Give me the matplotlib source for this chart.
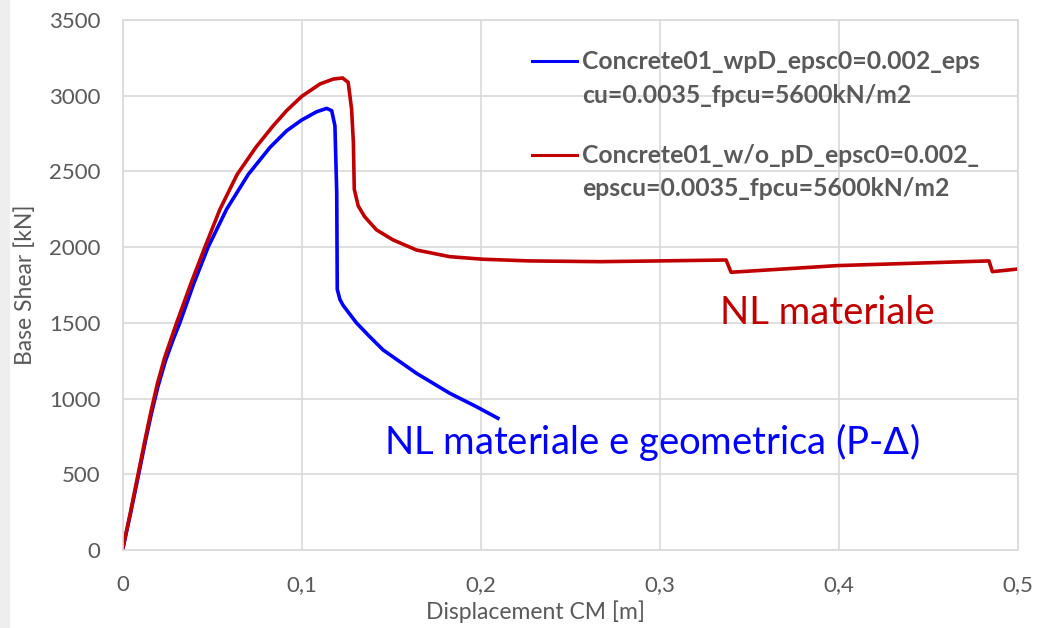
import matplotlib.pyplot as plt
from matplotlib.ticker import FuncFormatter, MultipleLocator
from matplotlib.patches import Rectangle

plt.rcParams['font.family'] = ['Lato', 'DejaVu Sans']

# Pushover curves
disp_wpd = [0.0, 0.0045, 0.009, 0.0128, 0.016, 0.0198, 0.024, 0.0283, 0.032,
            0.0398, 0.0478, 0.0581, 0.0702, 0.0823, 0.0916, 0.1, 0.1084,
            0.114, 0.1168, 0.1186, 0.1196, 0.1199, 0.1214, 0.1232, 0.1306,
            0.138, 0.1455, 0.1548, 0.1641, 0.1734, 0.1827, 0.1975, 0.2096]
shear_wpd = [0, 243, 500, 720, 895, 1080, 1250, 1390, 1500,
             1760, 2000, 2250, 2480, 2658, 2768, 2839, 2894,
             2916, 2901, 2801, 2360, 1721, 1654, 1615, 1500,
             1409, 1321, 1244, 1167, 1101, 1035, 947, 870]

disp_wo = [0.0, 0.0043, 0.0088, 0.0126, 0.0158, 0.0195, 0.0235, 0.0264, 0.0302,
           0.0385, 0.046, 0.0544, 0.064, 0.0745, 0.0841, 0.0916, 0.1,
           0.1102, 0.1177, 0.1229, 0.126, 0.1279, 0.1289, 0.1294, 0.1316,
           0.1352, 0.1418, 0.151, 0.1641, 0.1827, 0.2012, 0.2273, 0.2663,
           0.30, 0.337, 0.3398, 0.3992, 0.4838, 0.4857, 0.4987]
shear_wo = [0, 243, 507, 730, 910, 1100, 1270, 1370, 1500,
            1770, 2000, 2250, 2480, 2660, 2801, 2901, 2995,
            3077, 3110, 3117, 3088, 2912, 2691, 2382, 2272,
            2201, 2114, 2048, 1981, 1937, 1920, 1909, 1904,
            1909, 1915, 1834, 1878, 1909, 1838, 1854]

label_wpd = "Concrete01_wpD_epsc0=0.002_eps\ncu=0.0035_fpcu=5600kN/m2"
label_wo = "Concrete01_w/o_pD_epsc0=0.002_\nepscu=0.0035_fpcu=5600kN/m2"

blue = "#0000FF"
red = "#C00000"
grey = "#595959"
grid = "#D9D9D9"

fig = plt.figure(figsize=(10.41, 6.28), dpi=100)
ax = fig.add_axes([0.1177, 0.1242, 0.8602, 0.844])

ax.plot(disp_wpd, shear_wpd, color=blue, lw=2.6, solid_joinstyle='round')
ax.plot(disp_wo, shear_wo, color=red, lw=2.6, solid_joinstyle='round')

ax.set_xlim(0, 0.5)
ax.set_ylim(0, 3500)
ax.xaxis.set_major_locator(MultipleLocator(0.1))
ax.yaxis.set_major_locator(MultipleLocator(500))
ax.xaxis.set_major_formatter(FuncFormatter(lambda v, p: ("%g" % round(v, 2)).replace(".", ",")))
ax.grid(True, color=grid, lw=1.2)
ax.set_axisbelow(True)
for s in ax.spines.values():
    s.set_color(grid)
    s.set_linewidth(1.2)
ax.tick_params(length=0, labelsize=16, colors=grey)
ax.tick_params(axis='y', pad=16)
ax.tick_params(axis='x', pad=18)

fig.text(25 / 1041, 1 - 285 / 628, "Base Shear [kN]", rotation=90, ha='center', va='center',
         fontsize=16.5, color=grey)
fig.text(536 / 1041, 1 - 612 / 628, "Displacement CM [m]", ha='center', va='center',
         fontsize=16.5, color=grey)

# annotations
ax.text(0.3935, 1565, "NL materiale", color=red, fontsize=27.5, ha='center', va='center')
ax.text(0.2953, 713, "NL materiale e geometrica (P-$\\Delta$)", color=blue, fontsize=27.5,
        ha='center', va='center')

# legend drawn by hand (handle next to first line of a two-line label)
x0 = (532 - 122.5) / 895.5
x1 = (577 - 122.5) / 895.5
xt = (582 - 122.5) / 895.5
for col, lab, yh, yb in [(blue, label_wpd, 61, 69.3), (red, label_wo, 155, 162.7)]:
    first, second = lab.split("\n")
    ax.plot([x0, x1], [(550 - yh) / 530] * 2, color=col, lw=2.2,
            transform=ax.transAxes, clip_on=False)
    ax.text(xt, (550 - yb) / 530, first, transform=ax.transAxes,
            ha='left', va='baseline', fontsize=17.8, fontweight='bold', color=grey)
    ax.text(xt, (550 - yb - 33.4) / 530, second, transform=ax.transAxes,
            ha='left', va='baseline', fontsize=17.8, fontweight='bold', color=grey)

# sliver of the neighbouring window at the left edge
fig.patches.append(Rectangle((0, 0), 10 / 1041, 1, transform=fig.transFigure,
                             facecolor='#EEEEEE', edgecolor='none'))

plt.savefig("out.png", dpi=100)
